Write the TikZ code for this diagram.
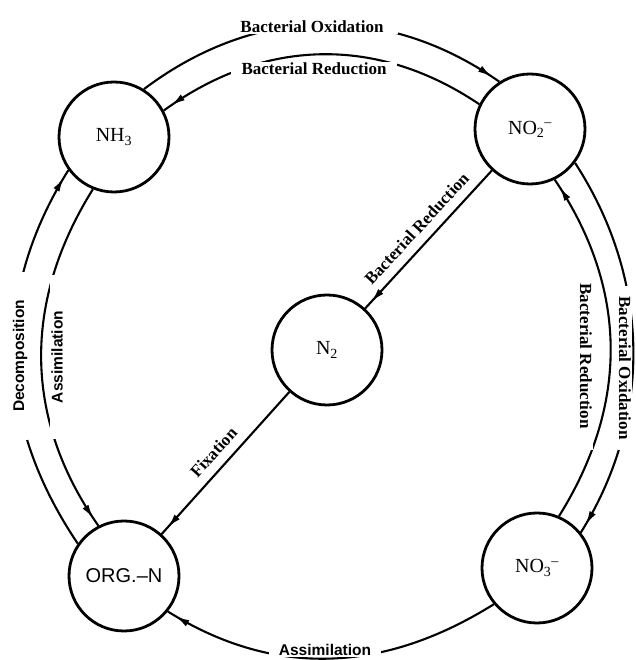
\documentclass[tikz,border=0pt]{standalone}
\usepackage{fontspec}
\setmainfont{Liberation Serif}
\setsansfont{Liberation Sans}
\usetikzlibrary{arrows.meta,decorations.markings}

\begin{document}
\begin{tikzpicture}[x=1pt,y=1pt,
  species/.style={circle, draw, line width=2.8pt, minimum size=110pt, inner sep=0pt,
    font=\fontsize{20}{20}\selectfont},
  flow/.style={line width=2.1pt},
  tipnear/.style={postaction={decorate},
    decoration={markings, mark=at position -9pt with {\arrow{Latex[length=14pt,width=7pt]}}}},
  proc/.style={font=\bfseries\fontsize{17}{17}\selectfont, fill=white,
    inner xsep=#1, inner ysep=1pt},
  proc/.default=8pt,
  procsans/.style={font=\sffamily\bfseries\fontsize{15.5}{15.5}\selectfont, fill=white,
    inner xsep=#1, inner ysep=1pt},
  procsans/.default=8pt,
  along/.style={font=\bfseries\fontsize{17}{17}\selectfont, sloped, above=8pt, inner sep=1pt},
]
\useasboundingbox (0,0) rectangle (635,660);

% nitrogen species
\node[species] (nh3)  at (114,523) {NH\textsubscript{3}};
\node[species] (no2)  at (530,531) {NO\textsubscript{2}\textsuperscript{--}};
\node[species] (no3)  at (537,92)  {NO\textsubscript{3}\textsuperscript{--}};
\node[species, font=\sffamily\fontsize{20}{20}\selectfont] (orgn) at (124,84) {ORG.--N};
\node[species] (n2)   at (327,310) {N\textsubscript{2}};

% outer and inner transformation arcs
\draw[flow,tipnear] (nh3.58)  to[out=37,in=145]  (no2.123);
\draw[flow,tipnear] (no2.154) to[out=146,in=36]  (nh3.28);
\draw[flow,tipnear] (no2.-37) to[out=-57,in=58,looseness=0.95] (no3.39);
\draw[flow,tipnear] (no3.67)  to[out=58,in=-56]  (no2.-64);
\draw[flow,tipnear] (orgn.145) to[out=124,in=238] (nh3.216);
\draw[flow,tipnear] (nh3.248) to[out=238,in=125] (orgn.117);
\draw[flow,tipnear] (no3.220) to[out=212,in=-32] (orgn.-39);

% straight transformations through N2
\draw[flow,tipnear] (no2) -- node[along]{Bacterial Reduction} (n2);
\draw[flow,tipnear] (n2) -- node[along]{Fixation} (orgn);

% process labels on the arcs
\node[proc=14pt] (lox1) at (312,633) {Bacterial Oxidation};
\node[proc=11pt] (lred1) at (314,591) {Bacterial Reduction};
\node[proc=10pt, rotate=-90] (lox2) at (625,292) {Bacterial Oxidation};
\node[proc=22pt, rotate=-90] (lred2) at (586,304) {Bacterial Reduction};
\node[procsans=28pt, rotate=90] (ldec) at (20,304) {Decomposition};
\node[procsans=36pt, rotate=90] (lass1) at (57,303) {Assimilation};
\node[procsans=10pt] (lass2) at (325,10) {Assimilation};
\end{tikzpicture}
\end{document}
